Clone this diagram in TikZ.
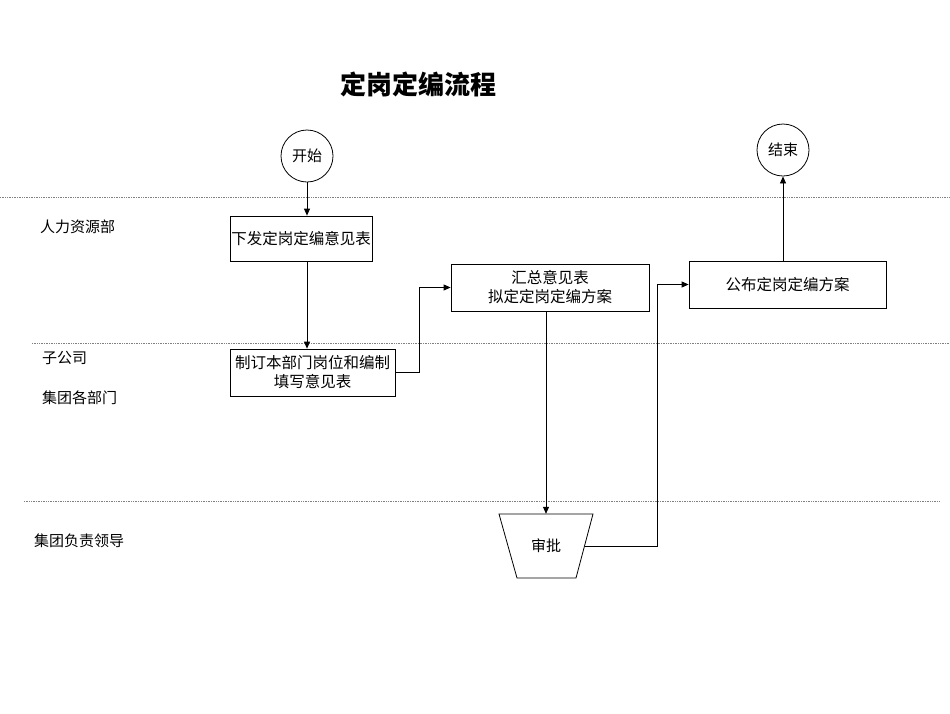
\documentclass[tikz,border=0pt]{standalone}
\usepackage{fontspec}
\setmainfont{Noto Sans CJK SC}
\usetikzlibrary{arrows.meta}
\begin{document}
\begin{tikzpicture}[x=1pt,y=-1pt,
  boxnode/.style={draw,line width=0.8pt,inner sep=0pt,font=\fontsize{15.5}{19}\selectfont,align=center},
  circnode/.style={draw,circle,line width=0.8pt,minimum size=52pt,inner sep=0pt,font=\fontsize{15}{18}\selectfont},
  lanetext/.style={anchor=west,inner sep=0pt,font=\fontsize{15}{18}\selectfont},
  arr/.style={line width=0.8pt,-{Triangle[length=7pt,width=6pt]}},
  lane/.style={line width=0.7pt,densely dotted,gray}]
\useasboundingbox (0,0) rectangle (950,713);
\node[font=\fontsize{26}{30}\selectfont\bfseries,inner sep=0pt] (title) at (418,84) {定岗定编流程};
% lanes
\draw[lane] (0,197) -- (950,197);
\draw[lane] (32,343) -- (950,343);
\draw[lane] (24,501) -- (940,501);
\node[lanetext] (l1) at (40,227) {人力资源部};
\node[lanetext] (l2) at (42,358) {子公司};
\node[lanetext] (l3) at (42,398) {集团各部门};
\node[lanetext] (l4) at (34,541) {集团负责领导};
% nodes
\node[circnode] (start) at (307,156) {开始};
\node[circnode] (end) at (783,150) {结束};
\node[boxnode,minimum width=142pt,minimum height=45pt] (b1) at (301,238.5) {下发定岗定编意见表};
\node[boxnode,minimum width=198pt,minimum height=47pt] (b2) at (550,287.5) {汇总意见表\\拟定定岗定编方案};
\node[boxnode,minimum width=197pt,minimum height=47pt] (b3) at (787.5,284.5) {公布定岗定编方案};
\node[boxnode,minimum width=165pt,minimum height=47pt] (b4) at (312.5,372.5) {制订本部门岗位和编制\\填写意见表};
% approval trapezoid
\draw[line width=0.8pt] (499,514) -- (593,514) -- (576,578) -- (517,578) -- cycle;
\node[minimum width=94pt,minimum height=64pt,inner sep=0pt,font=\fontsize{15}{18}\selectfont] (ap) at (546,546) {审批};
\coordinate (apE) at (585,546);
% connectors
\draw[arr] (start.south) -- (b1.north -| start.south);
\draw[arr] (b1.south -| start.south) -- (b4.north -| start.south);
\draw[arr] (b4.east) -- ++(24,0) |- (b2.west);
\draw[arr] (b2.south -| ap.north) -- (ap.north);
\draw[arr] (apE) -- ++(72,0) |- (b3.west);
\draw[arr] (b3.north -| end.south) -- (end.south);
\end{tikzpicture}
\end{document}
